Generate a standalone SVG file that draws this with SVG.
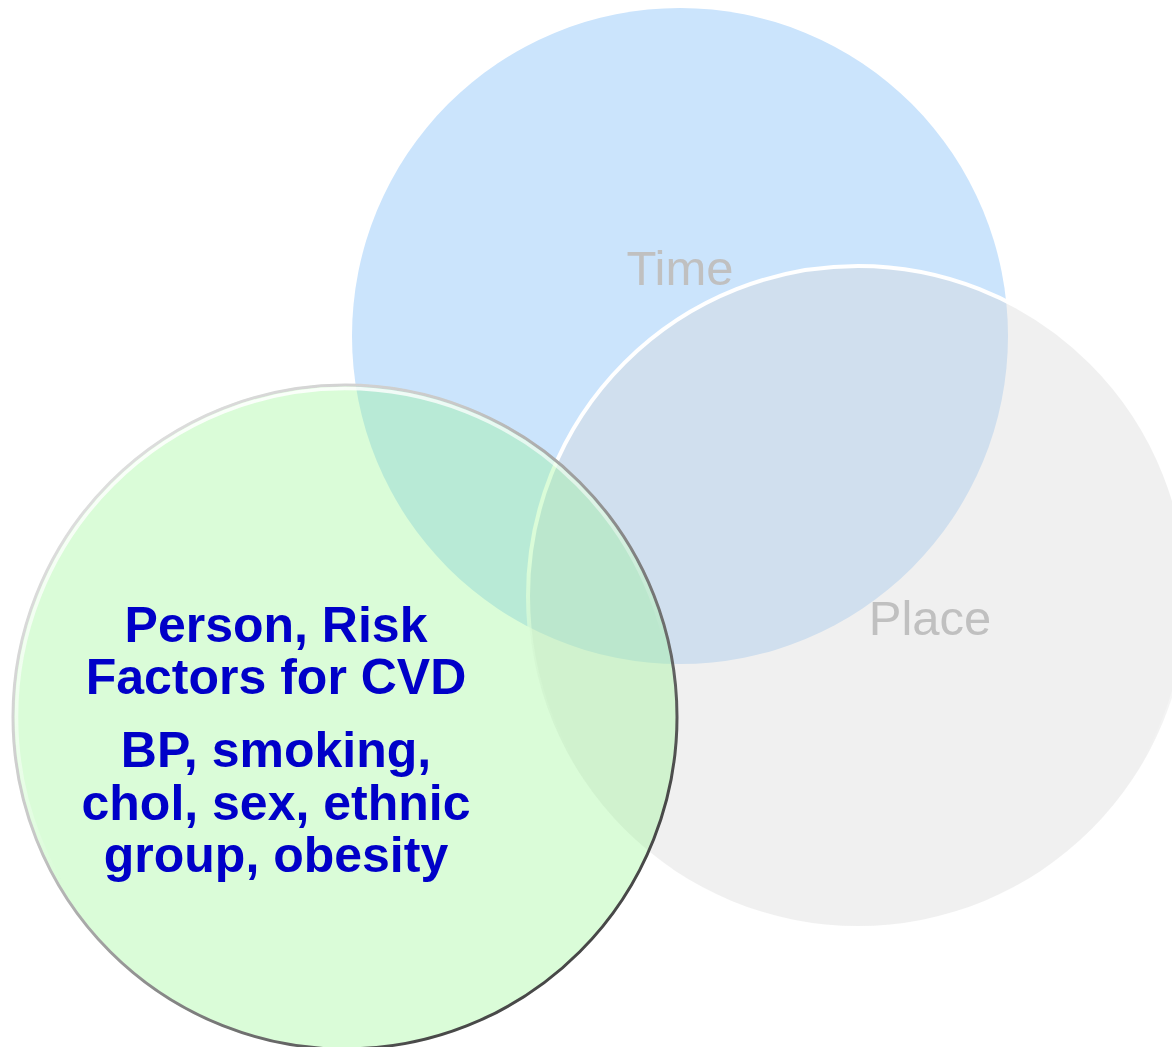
<svg xmlns="http://www.w3.org/2000/svg" width="1172" height="1047" viewBox="0 0 1172 1047">
  <defs>
    <style>
      .lbl { font-family: "Liberation Sans", Arial, sans-serif; font-size: 49px; fill: #c0c0c0; text-anchor: middle; }
      .main { font-family: "Liberation Sans", Arial, sans-serif; font-size: 50px; font-weight: bold; fill: #0000c8; text-anchor: middle; }
    </style>
    <linearGradient id="placeStroke" x1="0" y1="0" x2="0" y2="1">
      <stop offset="0" stop-color="#ffffff" stop-opacity="1"/>
      <stop offset="0.45" stop-color="#ffffff" stop-opacity="1"/>
      <stop offset="0.75" stop-color="#ffffff" stop-opacity="0"/>
    </linearGradient>
    <linearGradient id="rim" x1="0" y1="0" x2="1" y2="1">
      <stop offset="0" stop-color="#ececec"/>
      <stop offset="0.35" stop-color="#c8c8c8"/>
      <stop offset="0.6" stop-color="#808080"/>
      <stop offset="0.8" stop-color="#4a4a4a"/>
      <stop offset="1" stop-color="#404040"/>
    </linearGradient>
    <linearGradient id="hilite" x1="0.2" y1="0" x2="0.6" y2="1">
      <stop offset="0" stop-color="#ffffff" stop-opacity="0.95"/>
      <stop offset="0.4" stop-color="#ffffff" stop-opacity="0.5"/>
      <stop offset="0.6" stop-color="#ffffff" stop-opacity="0"/>
    </linearGradient>
    <filter id="soft" x="-5%" y="-5%" width="110%" height="110%">
      <feGaussianBlur stdDeviation="0.7"/>
    </filter>
  </defs>

  <g id="node-time">
    <circle cx="680" cy="336" r="328" fill="#cbe4fc"/>
    <text class="lbl" x="680" y="285">Time</text>
  </g>

  <g id="node-place">
    <circle cx="858" cy="596" r="330" fill="#d9d9d9" fill-opacity="0.39" stroke="url(#placeStroke)" stroke-width="4"/>
    <text class="lbl" x="930" y="635">Place</text>
  </g>

  <g id="node-person">
    <circle cx="345" cy="717" r="333" fill="#96f690" fill-opacity="0.353"/>
    <circle cx="345" cy="717" r="332" fill="none" stroke="url(#rim)" stroke-width="3" filter="url(#soft)"/>
    <circle cx="345" cy="717" r="328.5" fill="none" stroke="url(#hilite)" stroke-width="3.5" filter="url(#soft)"/>
    <text class="main" x="276" y="642">Person, Risk</text>
    <text class="main" x="276" y="694">Factors for CVD</text>
    <text class="main" x="276" y="767">BP, smoking,</text>
    <text class="main" x="276" y="820">chol, sex, ethnic</text>
    <text class="main" x="276" y="872">group, obesity</text>
  </g>

  <g id="connectors"/>
</svg>
